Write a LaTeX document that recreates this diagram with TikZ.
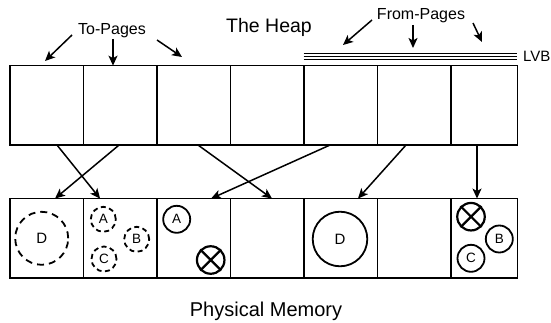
\documentclass[tikz,border=0pt]{standalone}
\usepackage{fontspec}
\setmainfont{Liberation Sans}
\usetikzlibrary{arrows.meta}

\begin{document}
\begin{tikzpicture}[x=1pt,y=-1pt,
  cell/.style={draw,line width=1.6pt,minimum height=79.4pt,inner sep=0pt,outer sep=0pt},
  arr/.style={line width=1.5pt,-{Stealth[length=10pt,width=9pt,inset=2.5pt]}},
  lbl/.style={inner sep=0pt,anchor=base},
  obj/.style={circle,draw,line width=1.8pt,inner sep=0pt,font=\fontsize{13.5}{13.5}\selectfont},
  bigobj/.style={obj,font=\fontsize{15}{15}\selectfont},
  dashbig/.style={dash pattern=on 7pt off 5pt},
  dashsmall/.style={dash pattern=on 5pt off 3.5pt},
  garbage/.style={circle,draw,line width=2.2pt,inner sep=0pt,minimum size=27.5pt},
]
\useasboundingbox (0,0) rectangle (551,323);

% heap pages (top row) and physical pages (bottom row)
\foreach \i/\l/\r in {1/10/83.3,2/83.3/156.8,3/156.8/230.3,4/230.3/303.7,5/303.7/377.3,6/377.3/450.7,7/450.7/517.3}{
  \pgfmathsetmacro\w{\r-\l}
  \pgfmathsetmacro\c{(\l+\r)/2}
  \node[cell,minimum width=\w pt] (h\i) at (\c,105.35) {};
  \node[cell,minimum width=\w pt] (m\i) at (\c,238.25) {};
}

% titles
\node[lbl,font=\fontsize{19.5}{19.5}\selectfont] (heap) at (269,33) {The Heap};
\node[lbl,font=\fontsize{16}{16}\selectfont] (to) at (112,35) {To-Pages};
\node[lbl,font=\fontsize{16}{16}\selectfont] (from) at (421,20) {From-Pages};
\node[lbl,font=\fontsize{20}{20}\selectfont] (phys) at (266,316) {Physical Memory};

% LVB barrier over the from-pages
\foreach \s in {12.5,9.5,6.5}
  \draw[line width=1.2pt] ([yshift=\s pt]h5.north west) -- ([yshift=\s pt]h7.north east);
\node[inner sep=0pt,anchor=base west,font=\fontsize{15}{15}\selectfont] (lvb) at (523,61.5) {LVB};

% to-pages pointers
\coordinate (t1) at (72,35);
\coordinate (t2) at (113,39);
\coordinate (t3) at (157,40);
\draw[arr] (t1) -- ([xshift=-1.65pt,yshift=4.65pt]h1.north);
\draw[arr] (t2) -- ([xshift=-7.05pt]h2.north);
\draw[arr] (t3) -- ([xshift=-11.55pt,yshift=8.65pt]h3.north);

% from-pages pointers
\coordinate (f1) at (372,20);
\coordinate (f1e) at (343,45);
\coordinate (f2) at (413,25);
\coordinate (f2e) at (413,48);
\coordinate (f3) at (473,23);
\coordinate (f3e) at (482,42);
\draw[arr] (f1) -- (f1e);
\draw[arr] (f2) -- (f2e);
\draw[arr] (f3) -- (f3e);

% mappings from virtual pages to physical pages
\draw[arr] ([xshift=10.35pt]h1.south) -- ([xshift=-20pt]m2.north);
\draw[arr] ([xshift=-1pt]h2.south) -- ([xshift=8.35pt]m1.north);
\draw[arr] ([xshift=4.5pt]h3.south) -- ([xshift=5pt]m4.north);
\draw[arr] ([xshift=-10.5pt]h5.south) -- ([xshift=17.5pt]m3.north);
\draw[arr] ([xshift=-8pt]h6.south) -- ([xshift=17.5pt]m5.north);
\draw[arr] ([xshift=-7pt]h7.south) -- ([xshift=-7pt]m7.north);

% objects in physical page 1 and 2 (dashed)
\node[bigobj,dashbig,minimum size=53pt] (d1) at (41.7,238.3) {D};
\node[obj,dashsmall,minimum size=25pt] (a1) at (103.3,219.3) {A};
\node[obj,dashsmall,minimum size=25pt] (b1) at (136.7,239.3) {B};
\node[obj,dashsmall,minimum size=25pt] (c1) at (104,259) {C};

% physical page 3
\node[obj,minimum size=27pt] (a2) at (176.7,219.3) {A};
\node[garbage] (x1) at (210.7,260) {};
\draw[line width=2.2pt] (x1.north east) -- (x1.south west) (x1.north west) -- (x1.south east);

% physical page 5
\node[bigobj,minimum size=54.6pt] (d2) at (340,239) {D};

% physical page 7
\node[garbage] (x2) at (471,216.7) {};
\draw[line width=2.2pt] (x2.north east) -- (x2.south west) (x2.north west) -- (x2.south east);
\node[obj,minimum size=27pt] (b2) at (499.3,239) {B};
\node[obj,minimum size=27pt] (c2) at (471,258.3) {C};
\end{tikzpicture}
\end{document}
